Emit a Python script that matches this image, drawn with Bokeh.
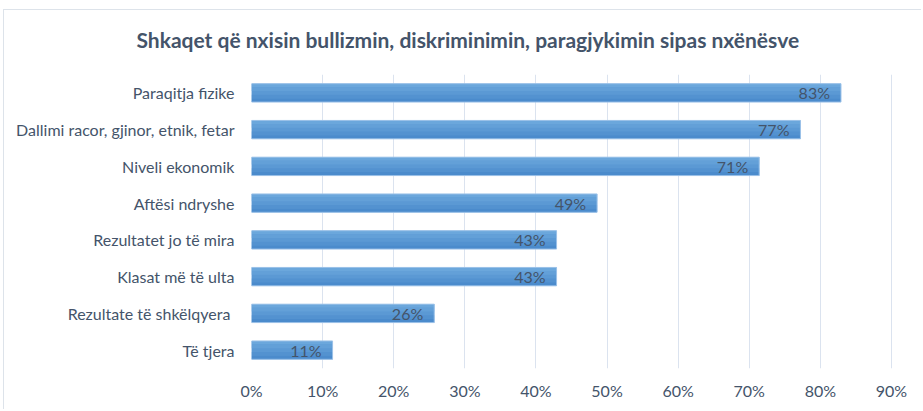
from bokeh.plotting import figure
from bokeh.models import ColumnDataSource, NumeralTickFormatter, FixedTicker, LabelSet, Title
from bokeh.transform import dodge
from bokeh.core.properties import value
from bokeh.embed import file_html
from bokeh.resources import INLINE

# Data (top to bottom as in the chart)
categories = [
    "Paraqitja fizike",
    "Dallimi racor, gjinor, etnik, fetar",
    "Niveli ekonomik",
    "Aftësi ndryshe",
    "Rezultatet jo të mira",
    "Klasat më të ulta",
    "Rezultate të shkëlqyera ",
    "Të tjera",
]
values = [0.829, 0.772, 0.714, 0.486, 0.429, 0.429, 0.257, 0.114]
value_labels = ["83%", "77%", "71%", "49%", "43%", "43%", "26%", "11%"]
x_ticks = [0, 0.1, 0.2, 0.3, 0.4, 0.5, 0.6, 0.7, 0.8, 0.9]
title_text = "Shkaqet që nxisin bullizmin, diskriminimin, paragjykimin sipas nxënësve"

FONT = "Lato"
TXT = "#44546A"

source = ColumnDataSource(dict(cat=categories, val=values, lab=value_labels))

p = figure(
    width=918, height=400,
    y_range=list(reversed(categories)),
    x_range=(0, 0.9394),
    output_backend="svg", toolbar_location=None,
    min_border_left=247, min_border_right=3,
    min_border_top=64, min_border_bottom=42,
)

# bar with a simple vertical shading (light top, darker bottom)
p.hbar(y="cat", right="val", left=0, height=0.5, source=source,
       fill_color="#5b99d4", line_color=None)
band_offsets = [0.2, 0.1, -0.1, -0.2]
band_colors = ["#6ba7dc", "#63a0d8", "#5392d0", "#4b8bcc"]
for off, col in zip(band_offsets, band_colors):
    p.hbar(y=dodge("cat", off, range=p.y_range), right="val", left=0, height=0.1,
           source=source, fill_color=col, line_color=None)
p.hbar(y="cat", right="val", left=0, height=0.5, source=source,
       fill_color=None, line_color="#9cc2e8", line_width=1)

labels = LabelSet(x="val", y="cat", text="lab", source=source,
                  text_align="right", text_baseline="middle", x_offset=-11,
                  text_font=value(FONT), text_font_size="16px", text_color=TXT)
p.add_layout(labels)

# spacer panel between the frame and the title (inserted innermost)
spacer = Title(text="\u00a0", text_font_size="14px", standoff=0)
p.above = [spacer] + list(p.above)

p.title.text = title_text
p.title.align = "left"
p.title.offset = -115
p.title.text_font = FONT
p.title.text_font_size = "21px"
p.title.text_font_style = "bold"
p.title.text_color = TXT

p.xaxis.ticker = FixedTicker(ticks=x_ticks)
p.xaxis.formatter = NumeralTickFormatter(format="0%")
for ax in (p.xaxis, p.yaxis):
    ax.axis_line_color = None
    ax.major_tick_line_color = None
    ax.minor_tick_line_color = None
    ax.major_tick_out = 0
    ax.major_tick_in = 0
    ax.minor_tick_out = 0
    ax.major_label_text_font = FONT
    ax.major_label_text_font_size = "16px"
    ax.major_label_text_color = TXT
p.xaxis.major_label_standoff = 12
p.yaxis.major_label_standoff = 17

p.xgrid.grid_line_color = "#dbe3ef"
p.xgrid.grid_line_width = 1
p.ygrid.grid_line_color = None
p.outline_line_color = None
p.background_fill_color = "white"
p.border_fill_color = "white"
p.styles = {"margin-left": "3px", "margin-top": "9px",
            "border-top": "1px solid #dde3ea", "border-left": "1px solid #dde3ea"}

open("out.html", "w").write(file_html(p, INLINE))
